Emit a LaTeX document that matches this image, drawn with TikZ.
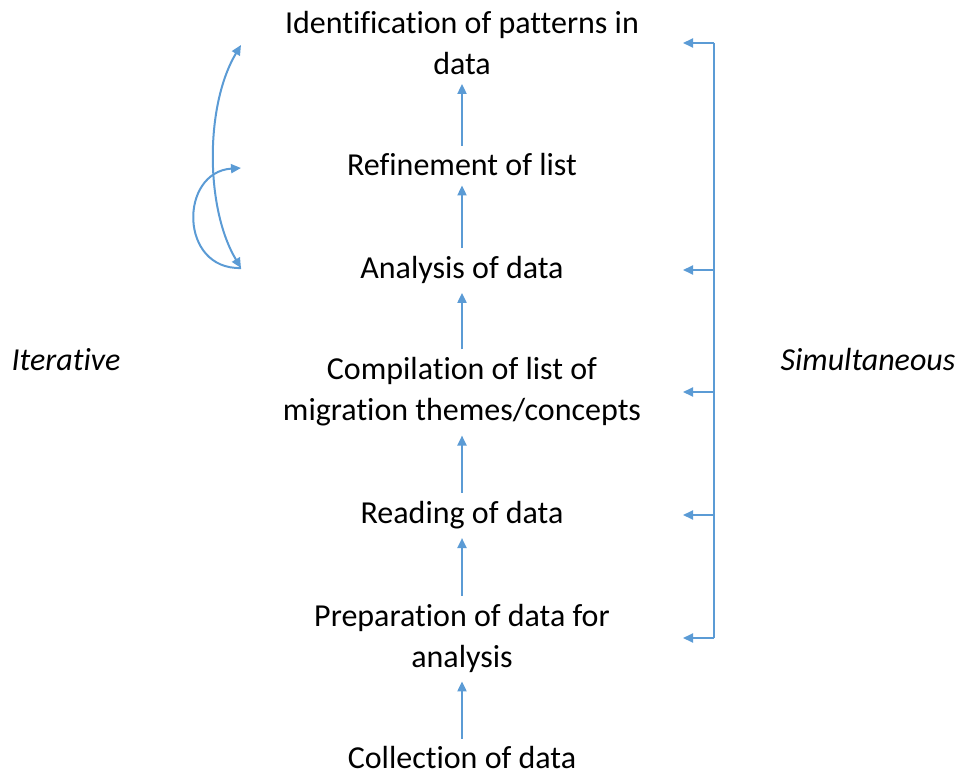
\documentclass[tikz,border=0pt]{standalone}
\usepackage{fontspec}
\setmainfont{Carlito}[Ligatures=NoCommon]
\usetikzlibrary{arrows.meta}

\definecolor{flowblue}{RGB}{91,155,213}

\begin{document}
\begin{tikzpicture}[x=1pt, y=-1pt,
  stage/.style={font=\fontsize{32}{41}\selectfont, align=center, inner sep=6pt},
  side/.style={font=\fontsize{32}{41}\selectfont\itshape},
  link/.style={draw=flowblue, line width=2pt},
  arr/.style={link, -{Triangle[length=10pt,width=9pt]}},
  twoarr/.style={link, {Triangle[length=10pt,width=9pt]}-{Triangle[length=10pt,width=9pt]}}
]
  \useasboundingbox (0,0) rectangle (962,778);

  %--- the stages, bottom to top ---
  \node[stage] (collect) at (462,758) {Collection of data};
  \node[stage] (prep)    at (462,638) {Preparation of data for\\analysis};
  \node[stage] (read)    at (462,515) {Reading of data};
  \node[stage] (comp)    at (462,392) {Compilation of list of\\migration themes/concepts};
  \node[stage] (anal)    at (462,270) {Analysis of data};
  \node[stage] (refine)  at (462,165) {Refinement of list};
  \node[stage] (ident)   at (462,43)  {Identification of patterns in\\data};

  \draw[arr, shorten >=3pt, shorten <=2pt] (collect) -- (prep);
  \draw[arr, shorten >=3pt, shorten <=2pt] (prep) -- (read);
  \draw[arr, shorten >=3pt, shorten <=2pt] (read) -- (comp);
  \draw[arr, shorten >=3pt, shorten <=2pt] (comp) -- (anal);
  \draw[arr, shorten >=3pt, shorten <=2pt] (anal) -- (refine);
  \draw[arr, shorten >=3pt, shorten <=2pt] (refine) -- (ident);

  %--- side labels ---
  \node[side] (iter) at (66,360)  {Iterative};
  \node[side] (simul) at (868,360) {Simultaneous};

  %--- iterative loops on the left ---
  \coordinate (lbot) at (241,268);
  \coordinate (lmid) at (241,168);
  \coordinate (ltop) at (241,45);
  \draw[twoarr] (lbot) .. controls +(-36,-60) and +(-36,60) .. (ltop);
  \draw[arr] (lbot) .. controls +(-62,2) and +(-62,4) .. (lmid);

  %--- simultaneous bracket on the right ---
  \coordinate (bx) at (714,0);
  \coordinate (tipx) at (683,0);
  \draw[link] (ident -| bx) -- (prep -| bx);
  \foreach \n in {ident, anal, comp, read, prep}
    \draw[arr] (\n -| bx) -- (\n -| tipx);
\end{tikzpicture}
\end{document}
